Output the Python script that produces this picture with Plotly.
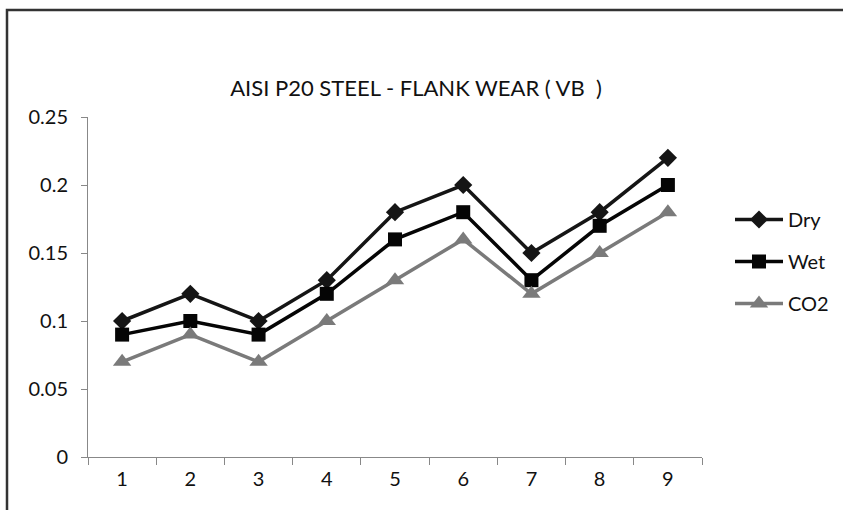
import plotly.graph_objects as go

# Flank wear (VB) of AISI P20 steel for nine runs under three cooling conditions
runs = ["1", "2", "3", "4", "5", "6", "7", "8", "9"]
dry = [0.10, 0.12, 0.10, 0.13, 0.18, 0.20, 0.15, 0.18, 0.22]
wet = [0.09, 0.10, 0.09, 0.12, 0.16, 0.18, 0.13, 0.17, 0.20]
co2 = [0.07, 0.09, 0.07, 0.10, 0.13, 0.16, 0.12, 0.15, 0.18]
y_ticks = [0, 0.05, 0.1, 0.15, 0.2, 0.25]
y_tick_labels = ["0", "0.05", "0.1", "0.15", "0.2", "0.25"]

FONT = "Lato, sans-serif"

series = [
    ("Dry", dry, "#151515", "diamond", 14),
    ("Wet", wet, "#050505", "square", 14),
    ("CO2", co2, "#7a7a7a", "triangle-up", 16),
]

fig = go.Figure()
for name, vals, color, symbol, size in series:
    fig.add_trace(go.Scatter(
        x=runs, y=vals, name=name, mode="lines+markers",
        legendgroup=name,
        line=dict(color=color, width=3.5),
        marker=dict(symbol=symbol, size=size, color=color, line=dict(width=0)),
    ))

W, H = 843, 510
L, R, T, B = 88, 141, 117, 53
pw, ph = W - L - R, H - T - B

def px_x(x):
    return (x - L) / pw

def px_y(y):
    return (H - B - y) / ph

# outer chart frame (top and left edges visible)
fx, fy = px_x(7), px_y(10)
fig.add_shape(type="path",
              path=f"M {fx},{px_y(600)} L {fx},{fy} L {px_x(900)},{fy}",
              xref="paper", yref="paper",
              line=dict(color="#333333", width=2.5))

fig.update_layout(
    width=W, height=H,
    margin=dict(l=L, r=R, t=T, b=B, autoexpand=False),
    paper_bgcolor="white", plot_bgcolor="white",
    font=dict(family=FONT, color="#111111", size=20),
    title=dict(text="AISI P20 STEEL - FLANK WEAR ( VB  )",
               x=416 / W, xanchor="center", xref="container",
               y=1 - 88 / H, yanchor="middle", yref="container",
               font=dict(family=FONT, size=22, color="#111111")),
    showlegend=True,
    legend=dict(x=px_x(730), y=px_y(200), xanchor="left", yanchor="top",
                font=dict(family=FONT, size=20, color="#111111"),
                itemwidth=48, tracegroupgap=13, bgcolor="rgba(0,0,0,0)"),
    xaxis=dict(type="category", tickson="boundaries", ticks="outside",
               ticklen=7, tickcolor="#888888", showline=True,
               linecolor="#888888", linewidth=1, showgrid=False,
               zeroline=False, range=[-0.5, 8.5], ticklabelstandoff=4,
               tickfont=dict(family=FONT, size=20)),
    yaxis=dict(range=[0, 0.25], tickvals=y_ticks, ticktext=y_tick_labels,
               ticks="outside", ticklen=6, tickcolor="#888888",
               showline=True, linecolor="#888888", linewidth=1,
               showgrid=False, zeroline=False, ticklabelstandoff=9,
               tickfont=dict(family=FONT, size=20)),
)

fig.write_html("out.html")
